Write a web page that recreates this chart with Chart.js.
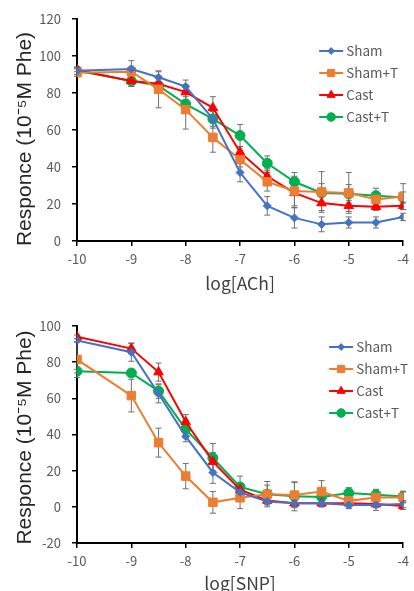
<!DOCTYPE html>
<html>
<head>
<meta charset="utf-8">
<script src="https://cdn.jsdelivr.net/npm/chart.js@4.4.1/dist/chart.umd.min.js"></script>
<style>
html, body { margin: 0; padding: 0; background: #fff; overflow: hidden; }
#c1 { position: absolute; left: 0; top: 0; }
#c2 { position: absolute; left: 0; top: 300px; }
</style>
</head>
<body>
<canvas id="c1" width="414" height="300"></canvas>
<canvas id="c2" width="414" height="300"></canvas>
<script>
// log concentrations on the x axis (same for both panels)
const doses = [-10, -9, -8.5, -8, -7.5, -7, -6.5, -6, -5.5, -5, -4.5, -4];
const groups = ['Sham', 'Sham+T', 'Cast', 'Cast+T'];

// ACh panel, mean response
const achSham = [92, 93, 88.5, 83.5, 66, 37, 19, 12.5, 9, 10, 10, 13];
const achShamT = [91, 91.5, 82, 71, 56, 44, 32, 27, 26.5, 26, 22.5, 24];
const achCast = [92.5, 86.5, 85, 80.5, 72, 48, 35, 26, 20.5, 19, 18.5, 19];
const achCastT = [92, 86.5, 84, 74, 66, 57, 42, 32, 26, 25.5, 24.5, 23.5];
// ACh panel, error bars
const achShamErr = [2, 4.5, 3, 3.5, 5, 5, 5, 5.5, 4, 3, 3, 2];
const achShamTErr = [2, 3, 10, 10.5, 8, 4, 5, 8, 11, 11, 3, 7];
const achCastErr = [1, 3, 3, 4, 6, 3, 4, 8, 4, 3, 2, 2];
const achCastTErr = [2, 3, 4, 4, 4, 6, 4, 5, 5, 5, 4, 3];

// SNP panel, mean response
const snpSham = [92, 85.5, 62.5, 39, 19, 8, 3, 2, 2, 1, 1, 1.5];
const snpShamT = [81.5, 61.5, 35.5, 17, 2.5, 5, 7, 6.5, 8.5, 3.3, 5.2, 5.2];
const snpCast = [94, 87.5, 74.5, 47, 25, 9.5, 3.5, 2, 2, 2, 1.5, 0.5];
const snpCastT = [75, 74, 64, 43, 27, 11, 7, 5.8, 5.5, 7.6, 6.7, 5.7];
// SNP panel, error bars
const snpShamErr = [1, 5, 5, 3, 6, 3, 2, 2, 2, 2, 3, 2];
const snpShamTErr = [10, 9, 8, 7, 6, 6, 5, 7, 6, 4, 4, 3];
const snpCastErr = [1, 3, 5, 4, 5, 3, 2, 2, 2, 2, 2, 2];
const snpCastTErr = [1, 2, 4, 5, 8, 6, 7, 8, 3, 3, 3, 3];

const yTitle = 'Responce (10\u207B\u2075M Phe)';

const colors = ['#4472C4', '#ED7D31', '#FF0000', '#00B050'];
const markers = ['rectRot', 'rect', 'triangle', 'circle'];
const radii = [4, 6, 5.5, 5];

const tickFont = { family: '"Noto Sans CJK JP", sans-serif', size: 13 };

// vertical error bars, drawn under the lines
const errorBars = {
    id: 'errorBars',
    beforeDatasetsDraw(chart) {
        const { ctx, scales: { x, y } } = chart;
        ctx.save();
        ctx.strokeStyle = '#707070';
        ctx.lineWidth = 1;
        chart.data.datasets.forEach(ds => {
            ds.data.forEach((p, i) => {
                const e = ds.errors[i];
                const px = x.getPixelForValue(p.x);
                const top = y.getPixelForValue(p.y + e);
                const bot = y.getPixelForValue(p.y - e);
                ctx.beginPath();
                ctx.moveTo(px, top); ctx.lineTo(px, bot);
                ctx.moveTo(px - 3, top); ctx.lineTo(px + 3, top);
                ctx.moveTo(px - 3, bot); ctx.lineTo(px + 3, bot);
                ctx.stroke();
            });
        });
        ctx.restore();
    }
};

// excel style legend (line + marker) inside the plot, plus the rotated y title
const lineLegend = {
    id: 'lineLegend',
    afterDatasetsDraw(chart, args, opts) {
        const { ctx, chartArea } = chart;
        const x0 = chartArea.right - opts.offsetX;
        chart.data.datasets.forEach((ds, i) => {
            const yy = chartArea.top + opts.offsetY + i * 22;
            ctx.save();
            ctx.strokeStyle = ds.borderColor;
            ctx.lineWidth = 2;
            ctx.beginPath();
            ctx.moveTo(x0, yy);
            ctx.lineTo(x0 + 24, yy);
            ctx.stroke();
            ctx.fillStyle = ds.backgroundColor;
            ctx.lineWidth = 1;
            Chart.helpers.drawPoint(ctx, {
                pointStyle: ds.pointStyle, radius: ds.pointRadius * 0.85, rotation: 0, borderWidth: 1
            }, x0 + 12, yy);
            ctx.fillStyle = '#595959';
            ctx.font = '13.5px "Noto Sans CJK JP", sans-serif';
            ctx.textBaseline = 'middle';
            ctx.fillText(ds.label, x0 + 27, yy);
            ctx.restore();
        });

        // y axis title
        ctx.save();
        ctx.translate(25, (chartArea.top + chartArea.bottom) / 2 + opts.titleShift);
        ctx.rotate(-Math.PI / 2);
        ctx.fillStyle = '#262626';
        ctx.font = '21px "Liberation Sans", Arial, sans-serif';
        ctx.textAlign = 'center';
        ctx.textBaseline = 'middle';
        ctx.fillText(yTitle, 0, 0);
        ctx.restore();
    }
};

function makeDatasets(vals, errs) {
    return groups.map((g, i) => ({
        label: g,
        data: doses.map((d, j) => ({ x: d, y: vals[i][j] })),
        errors: errs[i],
        borderColor: colors[i],
        backgroundColor: colors[i],
        borderWidth: 2,
        pointStyle: markers[i],
        pointRadius: radii[i],
        pointBorderWidth: 1,
        tension: 0
    }));
}

function makeChart(id, vals, errs, yMin, yMax, xTitle, pad, xHeight, legendPos) {
    return new Chart(document.getElementById(id), {
        type: 'line',
        data: { datasets: makeDatasets(vals, errs) },
        plugins: [errorBars, lineLegend],
        options: {
            responsive: false,
            animation: false,
            layout: { padding: { top: pad, right: 8, left: 0, bottom: 0 } },
            plugins: {
                legend: { display: false },
                tooltip: { enabled: false },
                lineLegend: legendPos
            },
            scales: {
                x: {
                    type: 'linear',
                    min: -10,
                    max: -4,
                    ticks: { stepSize: 1, color: '#595959', font: tickFont, padding: 5 },
                    grid: { drawOnChartArea: false, drawTicks: true, tickLength: 5, color: '#000', lineWidth: 1.5 },
                    border: { color: '#000', width: 2 },
                    title: {
                        display: true,
                        text: xTitle,
                        color: '#404040',
                        font: { family: '"Noto Sans CJK JP", sans-serif', size: 17.5 },
                        padding: { top: 2, bottom: 6 }
                    },
                    afterFit: s => { s.height = xHeight; }
                },
                y: {
                    min: yMin,
                    max: yMax,
                    ticks: { stepSize: 20, color: '#595959', font: tickFont, padding: 11 },
                    grid: { drawOnChartArea: false, drawTicks: true, tickLength: 5, color: '#000', lineWidth: 1.5 },
                    border: { color: '#000', width: 2 },
                    afterFit: s => { s.width = 77; }
                }
            }
        }
    });
}

makeChart('c1', [achSham, achShamT, achCast, achCastT], [achShamErr, achShamTErr, achCastErr, achCastTErr],
    0, 120, 'log[ACh]', 19, 59, { offsetX: 84, offsetY: 32, titleShift: 9 });
makeChart('c2', [snpSham, snpShamT, snpCast, snpCastT], [snpShamErr, snpShamTErr, snpCastErr, snpCastTErr],
    -20, 100, 'log[SNP]', 26, 57, { offsetX: 74, offsetY: 21, titleShift: 3 });
</script>
</body>
</html>
